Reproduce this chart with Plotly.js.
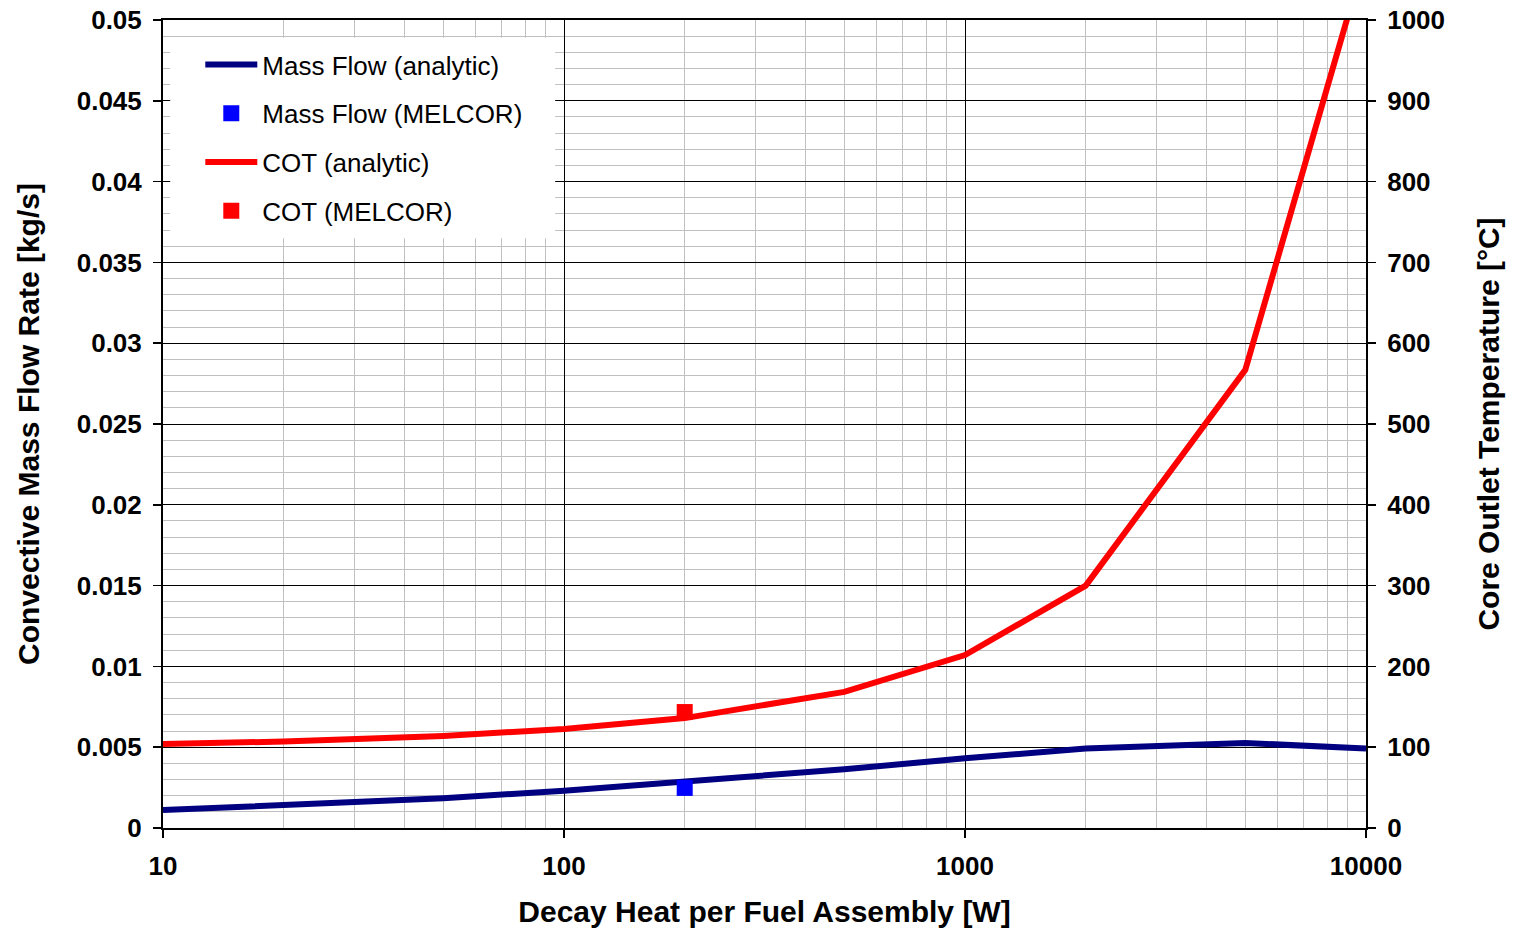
<!DOCTYPE html>
<html>
<head>
<meta charset="utf-8">
<script src="https://cdn.plot.ly/plotly-3.0.1.min.js"></script>
<style>html,body{margin:0;padding:0;background:#fff;}#chart{width:1526px;height:931px;}</style>
</head>
<body>
<div id="chart"></div>
<script>
// Decay heat per fuel assembly [W]
const decayHeat = [10, 20, 50, 100, 200, 500, 1000, 2000, 5000, 10000];
// Convective mass flow rate [kg/s] (analytic)
const massFlowAnalytic = [0.00111, 0.00142, 0.00184, 0.00231, 0.00285, 0.00363, 0.00431, 0.00492, 0.00526, 0.00492];
// Core outlet temperature [°C] (analytic)
const cotAnalytic = [104, 107, 114, 122.5, 136, 168.5, 214, 300, 567, 1082];
// MELCOR results
const melcorHeat = [200];
const massFlowMelcor = [0.00248];
const cotMelcor = [143.5];

const xTickVals = [10, 100, 1000, 10000];
const xTickText = ['10', '100', '1000', '10000'];
const xMinorVals = [20, 30, 40, 50, 60, 70, 80, 90, 200, 300, 400, 500, 600, 700, 800, 900, 2000, 3000, 4000, 5000, 6000, 7000, 8000, 9000];
const yTickVals = [0, 0.005, 0.01, 0.015, 0.02, 0.025, 0.03, 0.035, 0.04, 0.045, 0.05];
const yTickText = ['0', '0.005', '0.01', '0.015', '0.02', '0.025', '0.03', '0.035', '0.04', '0.045', '0.05'];
const y2TickVals = [0, 100, 200, 300, 400, 500, 600, 700, 800, 900, 1000];

const FONT = 'Liberation Sans, Arial, sans-serif';

const traces = [
  {x: decayHeat, y: massFlowAnalytic, name: 'Mass Flow (analytic)', mode: 'lines',
   line: {color: '#000080', width: 6}, yaxis: 'y', legendgroup: 'a'},
  {x: melcorHeat, y: massFlowMelcor, name: 'Mass Flow (MELCOR)', mode: 'markers',
   marker: {color: '#0000ff', symbol: 'square', size: 16}, yaxis: 'y', legendgroup: 'b'},
  {x: decayHeat, y: cotAnalytic, name: 'COT (analytic)', mode: 'lines',
   line: {color: '#ff0000', width: 6}, yaxis: 'y2', legendgroup: 'c'},
  {x: melcorHeat, y: cotMelcor, name: 'COT (MELCOR)', mode: 'markers',
   marker: {color: '#ff0000', symbol: 'square', size: 16}, yaxis: 'y2', legendgroup: 'd'}
];

const layout = {
  width: 1526, height: 931,
  margin: {l: 163, r: 160, t: 20, b: 103},
  paper_bgcolor: '#fff', plot_bgcolor: '#fff',
  font: {family: FONT, color: '#000'},
  showlegend: true,
  legend: {
    x: 0.031, y: 0.974, xanchor: 'left', yanchor: 'top',
    bgcolor: 'rgba(0,0,0,0)', borderwidth: 0,
    font: {family: FONT, size: 26, color: '#000'},
    tracegroupgap: 12, itemwidth: 52,
    traceorder: 'grouped'
  },
  shapes: [{
    type: 'rect', xref: 'paper', yref: 'paper', layer: 'above',
    x0: 0.006, x1: 0.326, y0: 0.730, y1: 0.978,
    fillcolor: '#ffffff', line: {width: 0}
  }],
  xaxis: {
    type: 'log', range: [1, 4],
    tickvals: xTickVals, ticktext: xTickText,
    tickfont: {family: FONT, size: 26, color: '#000', weight: 'bold'},
    ticks: 'outside', ticklen: 8, tickcolor: '#000', tickwidth: 1.5,
    ticklabelstandoff: 6,
    showgrid: true, gridcolor: '#000', gridwidth: 1,
    minor: {tickvals: xMinorVals, showgrid: true, gridcolor: '#c0c0c0', gridwidth: 1, ticks: ''},
    showline: true, linecolor: '#000', linewidth: 2, mirror: true,
    zeroline: false,
    title: {text: 'Decay Heat per Fuel Assembly [W]', font: {family: FONT, size: 30, color: '#000', weight: 'bold'}, standoff: 21}
  },
  yaxis: {
    range: [0, 0.05],
    tickvals: yTickVals, ticktext: yTickText,
    tickfont: {family: FONT, size: 26, color: '#000', weight: 'bold'},
    ticks: 'outside', ticklen: 8, tickcolor: '#000', tickwidth: 1.5,
    showgrid: true, gridcolor: '#000', gridwidth: 1,
    minor: {dtick: 0.001, showgrid: true, gridcolor: '#c0c0c0', gridwidth: 1, ticks: ''},
    showline: true, linecolor: '#000', linewidth: 2,
    zeroline: false,
    ticklabelstandoff: 6,
    title: {text: 'Convective Mass Flow Rate [kg/s]', font: {family: FONT, size: 30, color: '#000', weight: 'bold'}, standoff: 28}
  },
  yaxis2: {
    overlaying: 'y', side: 'right',
    range: [0, 1000],
    tickvals: y2TickVals,
    tickfont: {family: FONT, size: 26, color: '#000', weight: 'bold'},
    ticks: 'outside', ticklen: 8, tickcolor: '#000', tickwidth: 1.5,
    showgrid: false,
    showline: true, linecolor: '#000', linewidth: 2,
    zeroline: false,
    ticklabelstandoff: 6,
    title: {text: 'Core Outlet Temperature [°C]', font: {family: FONT, size: 30, color: '#000', weight: 'bold'}, standoff: 34}
  }
};

Plotly.newPlot('chart', traces, layout, {displayModeBar: false, staticPlot: true});
</script>
</body>
</html>
